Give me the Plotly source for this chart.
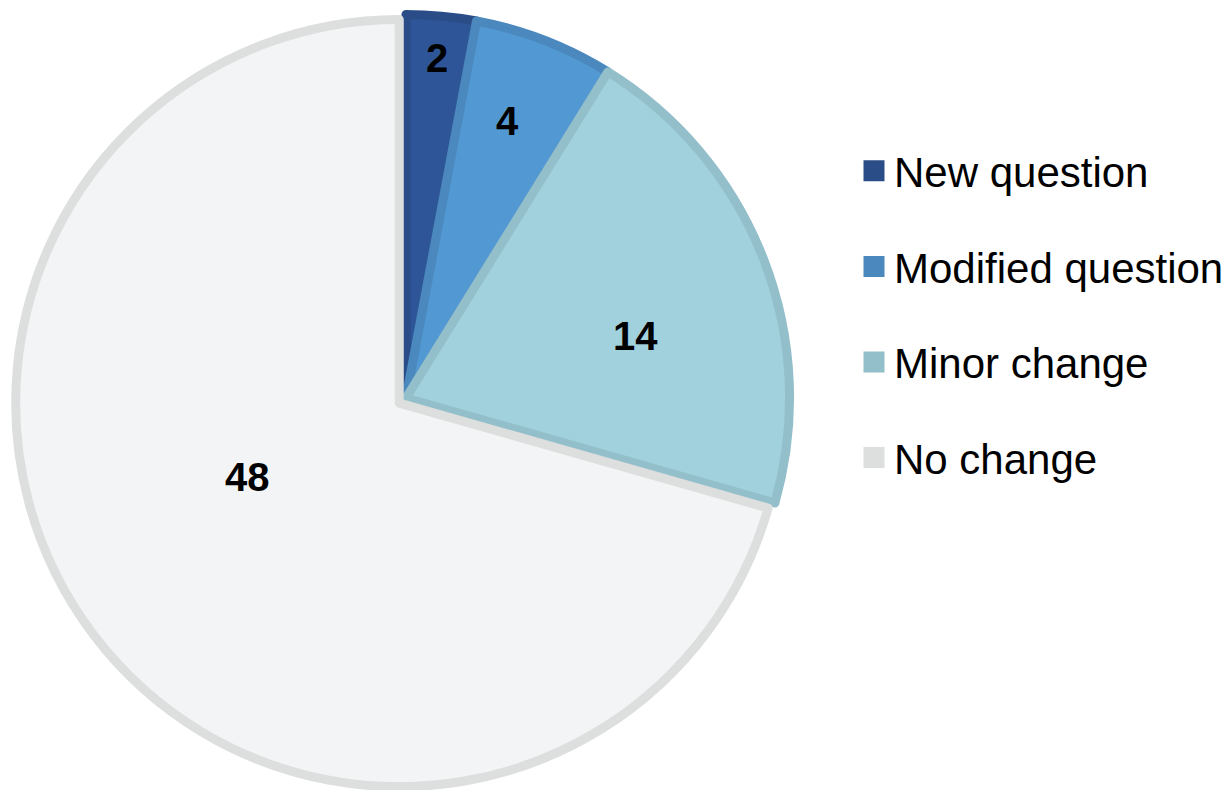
import math
import plotly.graph_objects as go

categories = ["New question", "Modified question", "Minor change", "No change"]
values = [2, 4, 14, 48]
fill_colors = ["#2E5597", "#5298D2", "#A2D1DE", "#F3F4F6"]
line_colors = ["#2B4D87", "#4A88BE", "#93BFCB", "#DDDEDE"]
pulls = [0, 0, 0, 0.022]
# label placement style (fraction of radius, angular nudge in degrees)
label_radius = [0.89, 0.77, 0.62, 0.44]
label_nudge = [0, -1, 6, 11]

W, H = 1232, 790
dom_x = [0, 812 / W]
dom_y = [0, 1 - 6 / H]

fig = go.Figure()
fig.add_trace(go.Pie(
    labels=categories,
    values=values,
    sort=False,
    direction="clockwise",
    rotation=0,
    pull=pulls,
    marker=dict(colors=fill_colors, line=dict(color=line_colors, width=9)),
    textinfo="none",
    showlegend=False,
    domain=dict(x=dom_x, y=dom_y),
    hoverinfo="label+value",
))

# labels at slice angles derived from the data
max_pull = max(pulls)
avail_w = W * (dom_x[1] - dom_x[0])
avail_h = H * (dom_y[1] - dom_y[0])
r = min(avail_w, avail_h) / (2 + 2 * max_pull)
cx = W * (dom_x[0] + dom_x[1]) / 2
cy = H * (1 - (dom_y[0] + dom_y[1]) / 2)
total = sum(values)
cum = 0
for v, f, nud, p in zip(values, label_radius, label_nudge, pulls):
    mid = (cum + v / 2) / total * 2 * math.pi
    cum += v
    ox = cx + p * r * math.sin(mid)
    oy = cy - p * r * math.cos(mid)
    a = mid + math.radians(nud)
    px = ox + f * r * math.sin(a)
    py = oy - f * r * math.cos(a)
    fig.add_annotation(
        x=px / W, y=1 - py / H, xref="paper", yref="paper",
        xanchor="center", yanchor="middle",
        text=f"<b>{v}</b>", showarrow=False,
        font=dict(family="Liberation Sans, Arial", size=40, color="black"),
    )

for i, (name, col) in enumerate(zip(categories, line_colors)):
    fig.add_trace(go.Scatter(
        x=[None], y=[None], mode="markers", name=name,
        legendgroup=f"g{i}",
        marker=dict(symbol="square", size=16, color=col, line=dict(color=col, width=5)),
    ))

fig.update_layout(
    width=W, height=H,
    margin=dict(l=0, r=0, t=0, b=0, autoexpand=False),
    paper_bgcolor="white", plot_bgcolor="white",
    xaxis=dict(visible=False), yaxis=dict(visible=False),
    font=dict(family="Liberation Sans, Arial", color="black"),
    legend=dict(
        x=854 / W, xanchor="left",
        y=1 - 137 / H, yanchor="top",
        font=dict(size=42, color="black"),
        tracegroupgap=38,
        bgcolor="rgba(0,0,0,0)",
    ),
)

fig.write_html(
    "out.html",
    config={"displayModeBar": False},
    post_script="document.body.style.margin='0';document.body.style.overflow='hidden';",
)
